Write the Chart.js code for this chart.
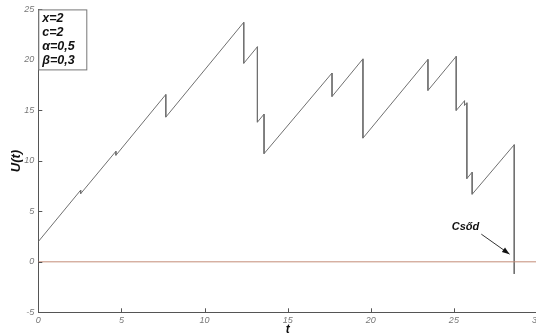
<!DOCTYPE html>
<html>
<head>
<meta charset="utf-8">
<script src="https://cdn.jsdelivr.net/npm/chart.js@4"></script>
<style>
  html, body { margin: 0; padding: 0; background: #fff; overflow: hidden; }
  #wrap { width: 545px; height: 334px; }
</style>
</head>
<body>
<div id="wrap"><canvas id="c" width="545" height="334"></canvas></div>
<script>
// Surplus process U(t): premium income at rate c, jumps down at claim times
const tValues = [0, 2.55, 2.55, 4.67, 4.67, 7.67, 7.67, 12.36, 12.36, 13.18, 13.18,
  13.58, 13.58, 17.67, 17.67, 19.53, 19.53, 23.44, 23.44, 25.14, 25.14,
  25.64, 25.64, 25.78, 25.78, 26.1, 26.1, 28.63, 28.63];
const uValues = [2, 7.1, 6.75, 10.95, 10.55, 16.57, 14.33, 23.72, 19.66, 21.3, 13.83,
  14.63, 10.71, 18.7, 16.37, 20.1, 12.25, 20.05, 16.97, 20.35, 14.99,
  15.95, 15.5, 15.75, 8.24, 8.88, 6.69, 11.6, -1.2];

const zeroT = [0, 30];
const zeroU = [0, 0];

const xTicks = [0, 5, 10, 15, 20, 25, 30];
const yTicks = [-5, 0, 5, 10, 15, 20, 25];

const paramLines = ['x=2', 'c=2', '\u03b1=0,5', '\u03b2=0,3'];
const ruinLabel = 'Cs\u0151d';
const ruinText = [25.7, 3.43];
const ruinArrow = [[26.65, 2.74], [28.35, 0.76]];

const pathData = tValues.map((t, i) => ({ x: t, y: uValues[i] }));
const zeroData = zeroT.map((t, i) => ({ x: t, y: zeroU[i] }));

const AXIS = '#555';
const TICKTXT = '#777';

// inward tick marks, parameter box, axis titles and ruin annotation
const decor = {
  id: 'decor',
  afterDraw(chart) {
    const { ctx, chartArea: a, scales: { x, y } } = chart;
    ctx.save();
    ctx.strokeStyle = AXIS;
    ctx.lineWidth = 1;
    ctx.beginPath();
    xTicks.forEach(v => {
      const px = Math.round(x.getPixelForValue(v)) + 0.5;
      ctx.moveTo(px, a.bottom); ctx.lineTo(px, a.bottom - 4);
    });
    yTicks.forEach(v => {
      const py = Math.round(y.getPixelForValue(v)) + 0.5;
      ctx.moveTo(a.left, py); ctx.lineTo(a.left + 4, py);
    });
    ctx.stroke();

    // parameter box
    const bx = a.left + 0.5, by = a.top + 0.5, bw = 48, bh = 60;
    ctx.fillStyle = '#fff';
    ctx.fillRect(bx, by, bw, bh);
    ctx.strokeStyle = '#777';
    ctx.strokeRect(bx, by, bw, bh);
    ctx.fillStyle = '#111';
    ctx.font = 'italic bold 12.5px "Liberation Sans", Arial, sans-serif';
    ctx.textBaseline = 'middle';
    ctx.textAlign = 'left';
    paramLines.forEach((s, i) => ctx.fillText(s, a.left + 4, a.top + 9 + i * 14.2));

    // axis titles
    ctx.font = 'italic bold 13px "Liberation Sans", Arial, sans-serif';
    ctx.textAlign = 'center';
    ctx.save();
    ctx.translate(16, 161);
    ctx.rotate(-Math.PI / 2);
    ctx.fillText('U(t)', 0, 0);
    ctx.restore();
    ctx.font = 'italic bold 12px "Liberation Sans", Arial, sans-serif';
    ctx.fillText('t', x.getPixelForValue(15), 330);

    // ruin annotation
    ctx.font = 'italic bold 11px "Liberation Sans", Arial, sans-serif';
    ctx.fillText(ruinLabel, x.getPixelForValue(ruinText[0]), y.getPixelForValue(ruinText[1]));
    const x0 = x.getPixelForValue(ruinArrow[0][0]), y0 = y.getPixelForValue(ruinArrow[0][1]);
    const x1 = x.getPixelForValue(ruinArrow[1][0]), y1 = y.getPixelForValue(ruinArrow[1][1]);
    ctx.strokeStyle = '#333';
    ctx.beginPath(); ctx.moveTo(x0, y0); ctx.lineTo(x1, y1); ctx.stroke();
    const ang = Math.atan2(y1 - y0, x1 - x0);
    ctx.fillStyle = '#111';
    ctx.beginPath();
    ctx.moveTo(x1, y1);
    ctx.lineTo(x1 - 8 * Math.cos(ang - 0.35), y1 - 8 * Math.sin(ang - 0.35));
    ctx.lineTo(x1 - 8 * Math.cos(ang + 0.35), y1 - 8 * Math.sin(ang + 0.35));
    ctx.closePath();
    ctx.fill();
    ctx.restore();
  }
};

new Chart(document.getElementById('c'), {
  type: 'scatter',
  data: {
    datasets: [
      { data: zeroData, showLine: true, borderColor: 'rgb(195,140,120)', borderWidth: 1,
        pointRadius: 0, tension: 0 },
      { data: pathData, showLine: true, borderColor: '#707070', borderWidth: 1,
        pointRadius: 0, tension: 0 }
    ]
  },
  options: {
    responsive: false,
    devicePixelRatio: 1,
    animation: false,
    layout: { autoPadding: false, padding: { left: 0, right: 7.5, top: 8.7, bottom: 0 } },
    plugins: { legend: { display: false }, tooltip: { enabled: false } },
    scales: {
      x: {
        type: 'linear', min: 0, max: 30,
        afterFit(s) { s.height = 21.7; },
        afterBuildTicks(s) { s.ticks = xTicks.map(v => ({ value: v })); },
        grid: { display: true, drawOnChartArea: false, drawTicks: false },
        border: { color: AXIS, width: 1 },
        ticks: { padding: 3, color: TICKTXT, maxRotation: 0,
          font: { family: '"Liberation Sans", Arial, sans-serif', size: 9, style: 'italic' } }
      },
      y: {
        type: 'linear', min: -5, max: 25,
        afterFit(s) { s.width = 38.3; },
        afterBuildTicks(s) { s.ticks = yTicks.map(v => ({ value: v })); },
        grid: { display: true, drawOnChartArea: false, drawTicks: false },
        border: { color: AXIS, width: 1 },
        ticks: { padding: 4, color: TICKTXT,
          font: { family: '"Liberation Sans", Arial, sans-serif', size: 9, style: 'italic' } }
      }
    }
  },
  plugins: [decor]
});
</script>
</body>
</html>
